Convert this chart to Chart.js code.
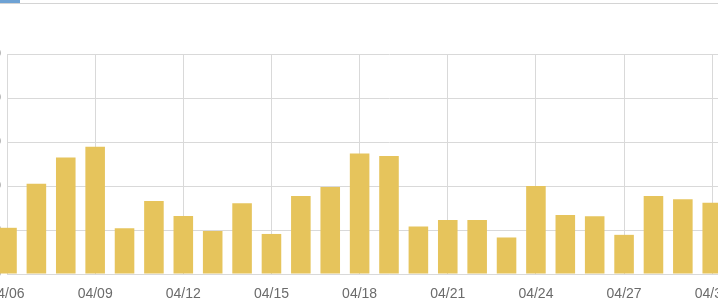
<!DOCTYPE html>
<html>
<head>
<meta charset="utf-8">
<script src="https://cdn.jsdelivr.net/npm/chart.js@4/dist/chart.umd.min.js"></script>
<style>
  html, body { margin: 0; padding: 0; background: #fff; width: 718px; height: 307px; overflow: hidden; position: relative; }
  #tabLine { position: absolute; left: 0; top: 3px; width: 718px; height: 1px; background: #d4d4d4; }
  #tabMark { position: absolute; left: 0; top: 0; width: 20px; height: 3px; background: #6ea2d4; }
  #wrap { position: absolute; left: -50px; top: 0; width: 833px; height: 307px; }
</style>
</head>
<body>
<div id="tabLine"></div>
<div id="tabMark"></div>
<div id="wrap"><canvas id="c" width="833" height="307"></canvas></div>
<script>
// Categories (days); the last two lie beyond the visible crop
const categories = ['04/06','04/07','04/08','04/09','04/10','04/11','04/12','04/13','04/14','04/15',
                    '04/16','04/17','04/18','04/19','04/20','04/21','04/22','04/23','04/24','04/25',
                    '04/26','04/27','04/28','04/29','04/30','05/01','05/02'];
// Bar values (y axis labels are cropped off; scale 0–50)
const values = [10.5, 20.5, 26.5, 28.9, 10.4, 16.6, 13.2, 9.8, 16.1, 9.1,
                17.7, 19.8, 27.4, 26.8, 10.8, 12.3, 12.3, 8.3, 20.0, 13.4,
                13.1, 8.9, 17.7, 17.0, 16.2, null, null];
const yTicks = [0, 10, 20, 30, 40, 50];

const gridColor = '#d9d9d9';
const barColor = '#e6c45c';

new Chart(document.getElementById('c'), {
  type: 'bar',
  data: {
    labels: categories,
    datasets: [{
      data: values,
      backgroundColor: barColor,
      borderWidth: 0,
      categoryPercentage: 0.74,
      barPercentage: 0.9,
      clip: false
    }]
  },
  options: {
    responsive: false,
    animation: false,
    devicePixelRatio: 1,
    layout: { padding: { top: 54, left: 0, right: 0, bottom: 0 } },
    plugins: { legend: { display: false }, tooltip: { enabled: false } },
    scales: {
      x: {
        offset: false,
        afterFit: s => { s.height = 33; },
        grid: {
          offset: false,
          drawTicks: false,
          color: ctx => (ctx.index % 3 === 0 ? gridColor : 'rgba(0,0,0,0)')
        },
        border: { display: true, color: gridColor },
        ticks: {
          autoSkip: false,
          maxRotation: 0,
          padding: 12,
          color: '#6b6b6b',
          font: { family: 'Liberation Sans, Arial, sans-serif', size: 14 },
          callback: function (v, i) { return i % 3 === 0 ? this.getLabelForValue(v) : ''; }
        }
      },
      y: {
        min: yTicks[0],
        max: yTicks[yTicks.length - 1],
        afterBuildTicks: s => { s.ticks = yTicks.map(v => ({ value: v })); },
        afterFit: s => { s.width = 57; },
        grid: { drawTicks: false, color: gridColor },
        border: { display: true, color: gridColor },
        ticks: {
          padding: 6,
          color: '#6b6b6b',
          font: { family: 'Liberation Sans, Arial, sans-serif', size: 14 }
        }
      }
    }
  }
});
</script>
</body>
</html>
